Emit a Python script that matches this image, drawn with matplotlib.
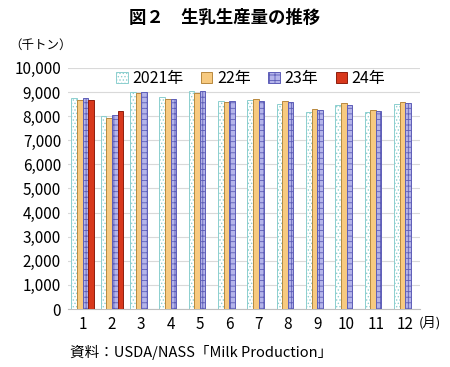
import numpy as np
import matplotlib.pyplot as plt

plt.rcParams['font.family'] = ['Noto Sans CJK JP', 'DejaVu Sans']
plt.rcParams['hatch.linewidth'] = 0.6

# データ（千トン）
months = ['1', '2', '3', '4', '5', '6', '7', '8', '9', '10', '11', '12']
y2021 = [8770, 8000, 8990, 8780, 9030, 8615, 8670, 8490, 8170, 8445, 8170, 8515]
y2022 = [8655, 7930, 8945, 8695, 8975, 8600, 8695, 8640, 8280, 8530, 8250, 8600]
y2023 = [8765, 8030, 9015, 8725, 9045, 8615, 8640, 8570, 8265, 8475, 8210, 8560]
y2024 = [8665, 8210] + [np.nan] * 10
labels = ['2021年', '22年', '23年', '24年']

x = np.arange(len(months))
w = 0.19

fig = plt.figure(figsize=(4.5, 3.67), dpi=100)
ax = fig.add_axes([0.151, 0.158, 0.782, 0.657])

styles = [
    dict(facecolor='white', edgecolor='#8CCFCF', hatch='.....'),
    dict(facecolor='#F7CA80', edgecolor='#B8893E'),
    dict(facecolor='#B4B4EA', edgecolor='#5E5EB8', hatch='+++'),
    dict(facecolor='#D8381C', edgecolor='#8E1E0E'),
]
series = [y2021, y2022, y2023, y2024]
for i, (vals, st, lab) in enumerate(zip(series, styles, labels)):
    ax.bar(x + (i - 1.5) * w, vals, width=w, linewidth=0.7, label=lab, zorder=3, **st)

ax.set_xlim(-0.5, 11.5)
ax.set_ylim(0, 10000)
ax.set_yticks(np.arange(0, 10001, 1000))
ax.set_yticklabels([f'{v:,}' for v in range(0, 10001, 1000)], fontsize=11)
ax.set_xticks(x)
ax.set_xticklabels(months, fontsize=11)
ax.tick_params(length=0, pad=5)
ax.grid(axis='y', color='#D9D9D9', linewidth=0.8, zorder=0)
for s in ['top', 'right', 'left']:
    ax.spines[s].set_visible(False)
ax.spines['bottom'].set_color('#BFBFBF')

ax.legend(loc='center', bbox_to_anchor=(0.52, 0.955), ncol=4, frameon=False,
          fontsize=11.5, handlelength=0.7, handleheight=0.7, handletextpad=0.3,
          columnspacing=1.1, borderpad=0)

fig.text(0.5, 0.95, '図２　生乳生産量の推移', ha='center', va='center',
         fontsize=12.5, fontweight='bold')
fig.text(0.02, 0.877, '（千トン）', ha='left', va='center', fontsize=9)
fig.text(0.93, 0.12, '(月)', ha='left', va='center', fontsize=9.5)
fig.text(0.155, 0.04, '資料：USDA/NASS「Milk Production」', ha='left', va='center', fontsize=10.5)

plt.savefig('out.png', dpi=100)
